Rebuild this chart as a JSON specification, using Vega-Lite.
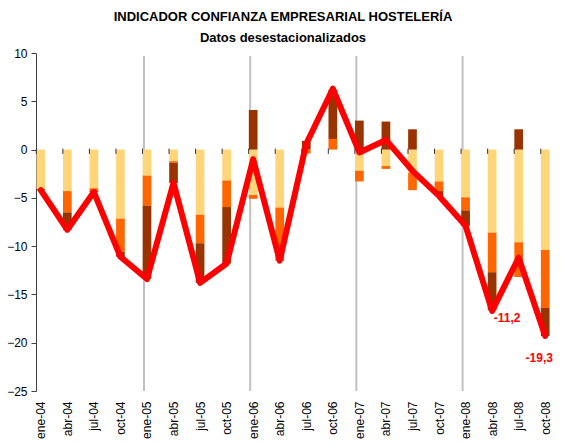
{
  "$schema": "https://vega.github.io/schema/vega-lite/v6.json",
  "autosize": "none",
  "width": 514,
  "height": 338,
  "padding": {"left": 36, "top": 53, "right": 16, "bottom": 52},
  "background": "white",
  "title": {
    "text": "INDICADOR CONFIANZA EMPRESARIAL HOSTELERÍA",
    "subtitle": "Datos desestacionalizados",
    "anchor": "middle",
    "dx": -10,
    "offset": 2,
    "font": "Liberation Sans",
    "fontSize": 13,
    "fontWeight": "bold",
    "color": "#000000",
    "subtitleFont": "Liberation Sans",
    "subtitleFontSize": 13,
    "subtitleFontWeight": "bold",
    "subtitleColor": "#000000",
    "subtitlePadding": 8
  },
  "config": {
    "view": {"stroke": null},
    "font": "Liberation Sans"
  },
  "datasets": {
    "bars": [
      {"q": "ene-04", "s": "A", "o": 1, "v": -4.1}, {"q": "ene-04", "s": "B", "o": 2, "v": 0}, {"q": "ene-04", "s": "C", "o": 3, "v": -0.1},
      {"q": "abr-04", "s": "A", "o": 1, "v": -4.3}, {"q": "abr-04", "s": "B", "o": 2, "v": -2.2}, {"q": "abr-04", "s": "C", "o": 3, "v": -1.8},
      {"q": "jul-04", "s": "A", "o": 1, "v": -4.0}, {"q": "jul-04", "s": "B", "o": 2, "v": -0.3}, {"q": "jul-04", "s": "C", "o": 3, "v": -0.1},
      {"q": "oct-04", "s": "A", "o": 1, "v": -7.15}, {"q": "oct-04", "s": "B", "o": 2, "v": -3.45}, {"q": "oct-04", "s": "C", "o": 3, "v": -0.5},
      {"q": "ene-05", "s": "A", "o": 1, "v": -2.7}, {"q": "ene-05", "s": "B", "o": 2, "v": -3.1}, {"q": "ene-05", "s": "C", "o": 3, "v": -7.6},
      {"q": "abr-05", "s": "A", "o": 1, "v": -1.2}, {"q": "abr-05", "s": "B", "o": 2, "v": -0.15}, {"q": "abr-05", "s": "C", "o": 3, "v": -2.1},
      {"q": "jul-05", "s": "A", "o": 1, "v": -6.75}, {"q": "jul-05", "s": "B", "o": 2, "v": -2.95}, {"q": "jul-05", "s": "C", "o": 3, "v": -4.1},
      {"q": "oct-05", "s": "A", "o": 1, "v": -3.2}, {"q": "oct-05", "s": "B", "o": 2, "v": -2.75}, {"q": "oct-05", "s": "C", "o": 3, "v": -5.85},
      {"q": "ene-06", "s": "A", "o": 1, "v": -4.7}, {"q": "ene-06", "s": "B", "o": 2, "v": -0.4}, {"q": "ene-06", "s": "C", "o": 3, "v": 4.1},
      {"q": "abr-06", "s": "A", "o": 1, "v": -6.0}, {"q": "abr-06", "s": "B", "o": 2, "v": -5.4}, {"q": "abr-06", "s": "C", "o": 3, "v": -0.1},
      {"q": "jul-06", "s": "A", "o": 1, "v": 0}, {"q": "jul-06", "s": "B", "o": 2, "v": -0.4}, {"q": "jul-06", "s": "C", "o": 3, "v": 0.9},
      {"q": "oct-06", "s": "A", "o": 1, "v": 0}, {"q": "oct-06", "s": "B", "o": 2, "v": 1.1}, {"q": "oct-06", "s": "C", "o": 3, "v": 5.1},
      {"q": "ene-07", "s": "A", "o": 1, "v": -2.2}, {"q": "ene-07", "s": "B", "o": 2, "v": -1.1}, {"q": "ene-07", "s": "C", "o": 3, "v": 3.0},
      {"q": "abr-07", "s": "A", "o": 1, "v": -1.7}, {"q": "abr-07", "s": "B", "o": 2, "v": -0.3}, {"q": "abr-07", "s": "C", "o": 3, "v": 2.9},
      {"q": "jul-07", "s": "A", "o": 1, "v": -2.4}, {"q": "jul-07", "s": "B", "o": 2, "v": -1.8}, {"q": "jul-07", "s": "C", "o": 3, "v": 2.1},
      {"q": "oct-07", "s": "A", "o": 1, "v": -3.3}, {"q": "oct-07", "s": "B", "o": 2, "v": -1.0}, {"q": "oct-07", "s": "C", "o": 3, "v": -0.5},
      {"q": "ene-08", "s": "A", "o": 1, "v": -4.95}, {"q": "ene-08", "s": "B", "o": 2, "v": -1.35}, {"q": "ene-08", "s": "C", "o": 3, "v": -1.6},
      {"q": "abr-08", "s": "A", "o": 1, "v": -8.6}, {"q": "abr-08", "s": "B", "o": 2, "v": -4.1}, {"q": "abr-08", "s": "C", "o": 3, "v": -3.95},
      {"q": "jul-08", "s": "A", "o": 1, "v": -9.6}, {"q": "jul-08", "s": "B", "o": 2, "v": -3.6}, {"q": "jul-08", "s": "C", "o": 3, "v": 2.1},
      {"q": "oct-08", "s": "A", "o": 1, "v": -10.4}, {"q": "oct-08", "s": "B", "o": 2, "v": -6.0}, {"q": "oct-08", "s": "C", "o": 3, "v": -2.9}
    ],
    "line": [
      {"q": "ene-04", "v": -4.2}, {"q": "abr-04", "v": -8.3}, {"q": "jul-04", "v": -4.4}, {"q": "oct-04", "v": -11.1},
      {"q": "ene-05", "v": -13.4}, {"q": "abr-05", "v": -3.45}, {"q": "jul-05", "v": -13.8}, {"q": "oct-05", "v": -11.8},
      {"q": "ene-06", "v": -1.0}, {"q": "abr-06", "v": -11.5}, {"q": "jul-06", "v": 0.6}, {"q": "oct-06", "v": 6.3},
      {"q": "ene-07", "v": -0.3}, {"q": "abr-07", "v": 1.0}, {"q": "jul-07", "v": -2.2}, {"q": "oct-07", "v": -4.8},
      {"q": "ene-08", "v": -7.9}, {"q": "abr-08", "v": -16.7}, {"q": "jul-08", "v": -11.2}, {"q": "oct-08", "v": -19.3}
    ],
    "years": [
      {"q": "ene-05"}, {"q": "ene-06"}, {"q": "ene-07"}, {"q": "ene-08"}
    ],
    "labels": [
      {"q": "abr-08", "v": -16.7, "t": "-11,2", "k": "a"},
      {"q": "oct-08", "v": -19.3, "t": "-19,3", "k": "b"}
    ]
  },
  "encoding": {
    "x": {
      "field": "q",
      "type": "nominal",
      "scale": {
        "type": "point",
        "padding": 0.18,
        "domain": ["ene-04","abr-04","jul-04","oct-04","ene-05","abr-05","jul-05","oct-05","ene-06","abr-06","jul-06","oct-06","ene-07","abr-07","jul-07","oct-07","ene-08","abr-08","jul-08","oct-08"]
      },
      "axis": {
        "title": null,
        "labelAngle": -90,
        "ticks": false,
        "domain": false,
        "labelPadding": 10,
        "labelFont": "Liberation Sans",
        "labelFontSize": 12,
        "labelColor": "#000000"
      }
    }
  },
  "layer": [
    {
      "data": {"name": "years"},
      "mark": {"type": "rule", "color": "#C0C0C0", "strokeWidth": 2, "xOffset": -3},
      "encoding": {
        "y": {"datum": 9.7, "type": "quantitative", "scale": {"domain": [-25, 10], "nice": false}},
        "y2": {"datum": -25}
      }
    },
    {
      "data": {"name": "bars"},
      "mark": {"type": "bar", "size": 8.7},
      "encoding": {
        "y": {
          "field": "v",
          "type": "quantitative",
          "stack": "zero",
          "scale": {"domain": [-25, 10], "nice": false},
          "axis": {
            "title": null,
            "values": [-25, -20, -15, -10, -5, 0, 5, 10],
            "grid": false,
            "tickSize": 5,
            "tickColor": "#404040",
            "domainColor": "#404040",
            "labelPadding": 4,
            "labelFont": "Liberation Sans",
            "labelFontSize": 12,
            "labelColor": "#000000"
          }
        },
        "color": {
          "field": "s",
          "type": "nominal",
          "scale": {"domain": ["A", "B", "C"], "range": ["#FFD57A", "#FF6600", "#993300"]},
          "legend": null
        },
        "order": {"field": "o", "type": "quantitative"}
      }
    },
    {
      "mark": {"type": "rule", "color": "#333333", "strokeWidth": 1},
      "encoding": {"x": null, "y": {"datum": 0, "type": "quantitative"}}
    },
    {
      "data": {"name": "line"},
      "mark": {"type": "rule", "color": "#333333", "strokeWidth": 1, "xOffset": -4.5},
      "encoding": {
        "y": {"datum": 0.1, "type": "quantitative"},
        "y2": {"datum": -0.45}
      }
    },
    {
      "data": {"name": "line"},
      "mark": {"type": "line", "color": "#FF0000", "strokeWidth": 6, "strokeJoin": "round", "strokeCap": "round"},
      "encoding": {
        "y": {"field": "v", "type": "quantitative"}
      }
    },
    {
      "data": {"name": "labels"},
      "transform": [{"filter": "datum.k === 'a'"}],
      "mark": {"type": "text", "color": "#FF0000", "fontWeight": "bold", "fontSize": 12, "font": "Liberation Sans", "dx": 15, "dy": 7, "align": "center", "baseline": "middle"},
      "encoding": {
        "y": {"field": "v", "type": "quantitative"},
        "text": {"field": "t"}
      }
    },
    {
      "data": {"name": "labels"},
      "transform": [{"filter": "datum.k === 'b'"}],
      "mark": {"type": "text", "color": "#FF0000", "fontWeight": "bold", "fontSize": 12, "font": "Liberation Sans", "dx": -6, "dy": 22, "align": "center", "baseline": "middle"},
      "encoding": {
        "y": {"field": "v", "type": "quantitative"},
        "text": {"field": "t"}
      }
    }
  ]
}
